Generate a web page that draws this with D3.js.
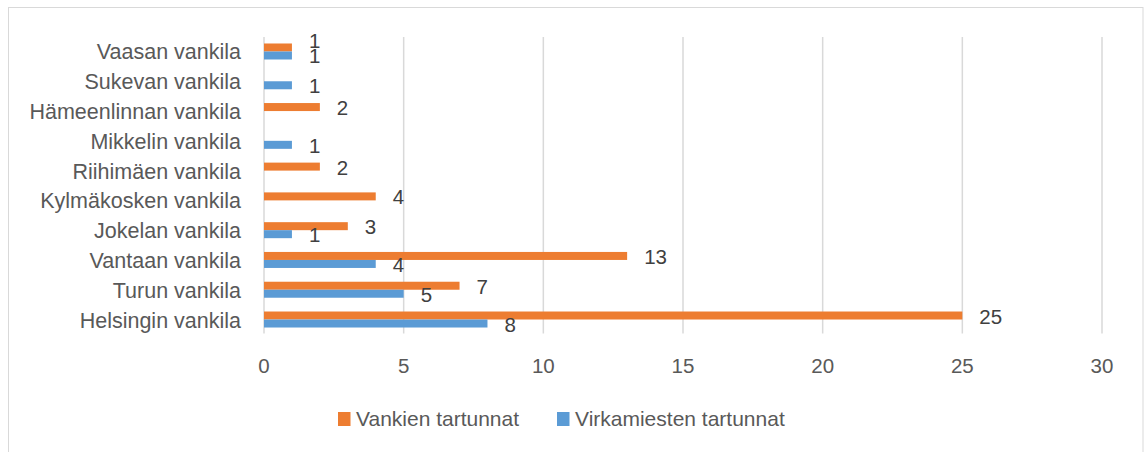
<!DOCTYPE html>
<html>
<head>
<meta charset="utf-8">
<script src="https://cdn.jsdelivr.net/npm/d3@7"></script>
<style>
  body { margin: 0; background: #fff; }
  svg { display: block; font-family: "Liberation Sans", "DejaVu Sans", sans-serif; }
</style>
</head>
<body>
<div id="chart"></div>
<script>
const width = 1144;
const height = 452;

// bottom-to-top order as in the picture
const categories = [
    "Helsingin vankila", "Turun vankila", "Vantaan vankila", "Jokelan vankila",
    "Kylmäkosken vankila", "Riihimäen vankila", "Mikkelin vankila",
    "Hämeenlinnan vankila", "Sukevan vankila", "Vaasan vankila"
];
const vankien = [25, 7, 13, 3, 4, 2, null, 2, null, 1];
const virkamiesten = [8, 5, 4, 1, null, null, 1, null, 1, 1];
const seriesNames = ["Vankien tartunnat", "Virkamiesten tartunnat"];
const seriesColors = ["#ED7D31", "#5B9BD5"];
const xTicks = [0, 5, 10, 15, 20, 25, 30];

const margin = { top: 36.6, right: 42, bottom: 117.6, left: 264 };

const svg = d3.select("#chart").append("svg")
    .attr("width", width)
    .attr("height", height);

// outer chart border
svg.append("rect")
    .attr("x", 8.5).attr("y", 7.5)
    .attr("width", 1134.5).attr("height", 460)
    .attr("fill", "none")
    .attr("stroke", "#d9d9d9")
    .attr("stroke-width", 1);

const x = d3.scaleLinear().domain([0, 30]).range([margin.left, width - margin.right]);
const y = d3.scaleBand()
    .domain(categories.slice().reverse())
    .range([margin.top, height - margin.bottom]);
const sub = d3.scaleBand()
    .domain(seriesNames)
    .range([y.bandwidth() / 2 - 8, y.bandwidth() / 2 + 8]);

// gridlines
svg.append("g")
    .selectAll("line")
    .data(xTicks)
    .join("line")
    .attr("x1", d => x(d)).attr("x2", d => x(d))
    .attr("y1", 37).attr("y2", 333.5)
    .attr("stroke", "#d9d9d9")
    .attr("stroke-width", 1.5);

// x tick labels
svg.append("g")
    .selectAll("text")
    .data(xTicks)
    .join("text")
    .attr("x", d => x(d))
    .attr("y", 373)
    .attr("text-anchor", "middle")
    .attr("fill", "#595959")
    .attr("font-size", 20.5)
    .text(d => d);

// category labels
svg.append("g")
    .selectAll("text")
    .data(categories)
    .join("text")
    .attr("x", 241)
    .attr("y", d => y(d) + y.bandwidth() / 2 + 8)
    .attr("text-anchor", "end")
    .attr("fill", "#595959")
    .attr("font-size", 21.5)
    .text(d => d);

const rows = [];
categories.forEach((c, i) => {
    rows.push({ cat: c, series: seriesNames[0], value: vankien[i], other: virkamiesten[i], color: seriesColors[0] });
    rows.push({ cat: c, series: seriesNames[1], value: virkamiesten[i], other: vankien[i], color: seriesColors[1] });
});
const present = rows.filter(r => r.value != null);

svg.append("g")
    .selectAll("rect")
    .data(present)
    .join("rect")
    .attr("x", x(0))
    .attr("y", d => y(d.cat) + sub(d.series))
    .attr("width", d => x(d.value) - x(0))
    .attr("height", sub.bandwidth())
    .attr("fill", d => d.color);

// data labels; the upper label moves up when both labels sit at the same x
svg.append("g")
    .selectAll("text")
    .data(present)
    .join("text")
    .attr("x", d => x(d.value) + 17)
    .attr("y", d => {
        let yy = y(d.cat) + sub(d.series) + sub.bandwidth() / 2 + 8;
        if (d.series === seriesNames[0] && d.other === d.value) yy -= 7;
        return yy;
    })
    .attr("fill", "#404040")
    .attr("font-size", 20.5)
    .text(d => d.value);

// legend
const legendX = [338, 557];
const legend = svg.append("g")
    .selectAll("g")
    .data(seriesNames)
    .join("g")
    .attr("transform", (d, i) => `translate(${legendX[i]}, 412)`);
legend.append("rect")
    .attr("width", 12.5).attr("height", 14)
    .attr("fill", (d, i) => seriesColors[i]);
legend.append("text")
    .attr("x", 18)
    .attr("y", 14)
    .attr("fill", "#595959")
    .attr("font-size", 21)
    .text(d => d);
</script>
</body>
</html>
